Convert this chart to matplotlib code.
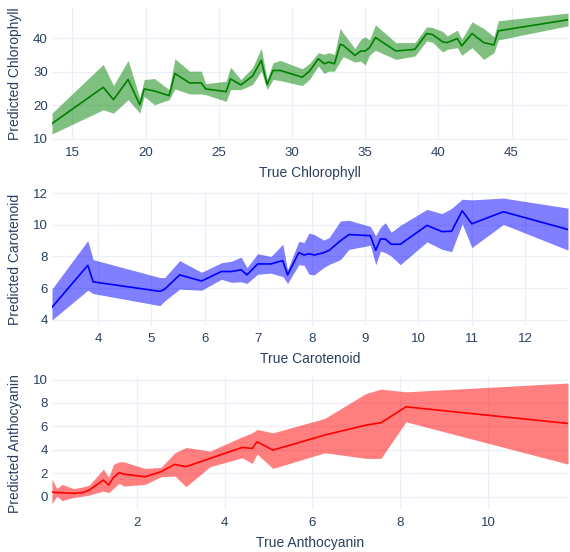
import numpy as np
import matplotlib
matplotlib.use("Agg")
import matplotlib.pyplot as plt

plt.rcParams['font.family'] = ['Liberation Sans', 'DejaVu Sans']

# ---- Chlorophyll ----
chl_true = [13.6, 17.1, 17.8, 18.8, 19.6, 19.9, 20.6, 21.6, 22.0, 23.0, 23.8, 24.1,
            25.5, 25.8, 26.5, 27.3, 27.9, 28.3, 28.7, 29.2, 30.7, 31.2, 31.8, 32.2,
            32.5, 32.9, 33.3, 33.5, 34.3, 34.7, 35.0, 35.3, 35.7, 37.1, 38.4, 39.2,
            39.6, 40.3, 40.6, 41.3, 41.6, 42.3, 43.1, 43.8, 44.1, 48.86]
chl_mean = [14.6, 25.4, 21.7, 27.7, 20.2, 24.9, 24.3, 22.9, 29.5, 26.7, 26.7, 24.9,
            24.1, 27.9, 26.1, 28.7, 33.4, 26.2, 30.4, 30.4, 28.4, 30.2, 33.9, 32.4,
            32.9, 32.4, 38.2, 37.9, 34.9, 36.2, 36.2, 37.2, 40.2, 36.2, 36.7, 41.4,
            41.1, 38.9, 38.7, 39.9, 37.7, 41.4, 38.7, 38.0, 42.2, 45.5]
chl_upper = [17.7, 32.2, 25.9, 33.4, 22.2, 27.7, 28.0, 24.7, 33.9, 30.2, 30.2, 26.5,
             27.2, 31.4, 27.7, 31.2, 37.0, 27.7, 32.7, 33.4, 30.9, 32.5, 35.7, 35.2,
             35.7, 35.2, 43.0, 41.5, 36.9, 39.7, 40.4, 39.5, 44.0, 38.7, 38.7, 43.4,
             43.2, 42.0, 40.7, 42.4, 39.7, 44.9, 42.9, 40.5, 45.2, 47.5]
chl_lower = [11.5, 18.7, 17.7, 21.7, 17.7, 22.7, 20.2, 21.7, 24.9, 23.4, 23.4, 23.2,
             21.2, 24.7, 24.7, 26.2, 30.2, 24.7, 27.7, 27.4, 25.9, 27.8, 31.7, 29.5,
             30.2, 30.2, 33.2, 34.5, 32.9, 33.2, 32.0, 35.0, 36.4, 33.7, 34.7, 39.2,
             38.8, 35.9, 36.7, 37.2, 34.9, 37.2, 33.7, 35.7, 39.5, 43.7]

# ---- Carotenoid ----
car_true = [3.14, 3.81, 3.91, 5.16, 5.25, 5.53, 5.94, 6.31, 6.5, 6.68, 6.79, 6.99,
            7.24, 7.46, 7.55, 7.76, 7.86, 7.95, 8.05, 8.23, 8.33, 8.54, 8.70, 9.10,
            9.2, 9.29, 9.38, 9.49, 9.66, 10.16, 10.44, 10.62, 10.82, 11.0, 11.59, 12.8]
car_mean = [4.8, 7.44, 6.4, 5.8, 5.94, 6.84, 6.45, 7.05, 7.05, 7.16, 6.84, 7.53,
            7.53, 7.74, 6.84, 8.24, 8.09, 8.17, 8.09, 8.24, 8.39, 8.99, 9.38, 9.31,
            8.39, 9.1, 9.1, 8.77, 8.77, 9.96, 9.57, 9.59, 10.88, 10.06, 10.82, 9.7]
car_upper = [5.95, 9.0, 7.8, 6.67, 6.67, 7.74, 7.0, 7.6, 7.7, 7.96, 7.3, 8.17,
             8.0, 8.77, 7.16, 8.95, 8.88, 9.48, 9.38, 9.03, 9.2, 10.24, 10.28, 9.89,
             9.31, 9.85, 10.13, 9.53, 9.96, 10.97, 10.7, 11.03, 11.61, 11.57, 11.68, 11.05]
car_lower = [4.0, 5.87, 5.66, 4.9, 5.2, 5.94, 5.87, 6.56, 6.37, 6.4, 6.3, 6.88,
             6.95, 6.73, 6.3, 7.48, 7.44, 6.88, 6.84, 7.31, 7.5, 7.8, 8.45, 8.7,
             7.48, 8.34, 8.24, 8.02, 7.48, 8.92, 8.45, 8.3, 10.06, 8.56, 10.02, 8.4]

# ---- Anthocyanin ----
ant_true = [0.07, 0.18, 0.30, 0.56, 0.79, 0.92, 1.24, 1.36, 1.47, 1.60, 1.70, 2.19,
            2.55, 2.87, 3.12, 3.67, 4.40, 4.63, 4.74, 5.10, 6.28, 7.22, 7.56, 8.13, 11.82]
ant_mean = [0.4, 0.34, 0.34, 0.28, 0.37, 0.57, 1.42, 0.99, 1.65, 2.05, 1.93, 1.7,
            2.13, 2.76, 2.56, 3.27, 4.2, 4.12, 4.69, 3.98, 5.26, 6.11, 6.31, 7.67, 6.25]
ant_upper = [1.5, 0.7, 1.05, 0.68, 0.85, 0.99, 2.36, 1.65, 2.76, 2.98, 2.98, 2.41,
             2.5, 3.75, 4.2, 3.89, 5.11, 5.45, 5.74, 5.45, 6.68, 8.81, 9.18, 8.95, 9.7]
ant_lower = [-0.62, 0.06, -0.34, -0.06, 0.06, 0.14, 0.48, 0.34, 0.71, 1.14, 0.91, 1.05,
             1.7, 1.76, 0.85, 2.56, 3.32, 2.84, 3.64, 2.41, 3.75, 3.27, 3.27, 6.39, 2.78]

panels = [
    (chl_true, chl_mean, chl_lower, chl_upper, 'green', 'Chlorophyll', [15, 20, 25, 30, 35, 40, 45], [10, 20, 30, 40]),
    (car_true, car_mean, car_lower, car_upper, 'blue', 'Carotenoid', [4, 5, 6, 7, 8, 9, 10, 11, 12], [4, 6, 8, 10, 12]),
    (ant_true, ant_mean, ant_lower, ant_upper, 'red', 'Anthocyanin', [2, 4, 6, 8, 10], [0, 2, 4, 6, 8, 10]),
]

W, H = 570, 552
fig = plt.figure(figsize=(W / 100, H / 100), dpi=100)
# plot areas in pixels: (top, bottom)
rows = [(7, 140), (192, 326), (377, 510)]
left_px, right_px = 52, 568

grid_col = '#EBF0F8'
text_col = '#2a3f5f'

for (x, m, lo, hi, col, name, xt, yt), (top, bot) in zip(panels, rows):
    ax = fig.add_axes([left_px / W, 1 - bot / H, (right_px - left_px) / W, (bot - top) / H])
    x = np.array(x); lo = np.array(lo); hi = np.array(hi)
    ax.fill_between(x, lo, hi, color=col, alpha=0.5, linewidth=0)
    ax.plot(x, m, color=col, lw=1.2)

    ax.set_xlim(x.min(), x.max())
    pad = 0.05 * (hi.max() - lo.min())
    ax.set_ylim(lo.min() - pad, hi.max() + pad)
    ax.set_xticks(xt)
    ax.set_yticks(yt)
    ax.grid(True, color=grid_col, lw=1)
    ax.set_axisbelow(True)
    for s in ax.spines.values():
        s.set_visible(False)
    ax.tick_params(length=0, labelsize=9.5, labelcolor=text_col)
    ax.tick_params(axis='x', pad=5)
    ax.tick_params(axis='y', pad=3)
    ax.set_xlabel('True ' + name, fontsize=10, color=text_col)
    ax.set_ylabel('Predicted ' + name, fontsize=10, color=text_col)
    ax.xaxis.set_label_coords(0.5, -33 / (bot - top))
    ax.xaxis.label.set_va('center')
    ax.yaxis.set_label_coords(-(left_px - 15) / (right_px - left_px), 0.5)
    ax.yaxis.label.set_va('center')

fig.savefig('out.png', dpi=100)
